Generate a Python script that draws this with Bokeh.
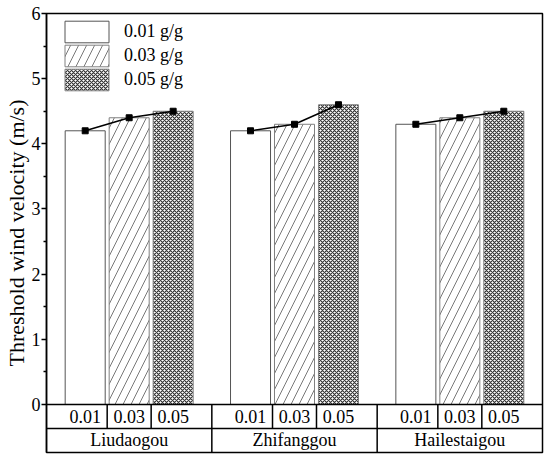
from bokeh.plotting import figure
from bokeh.models import Range1d, FixedTicker, Legend, LegendItem
from bokeh.core.properties import value
from bokeh.embed import file_html
from bokeh.resources import INLINE

# ---- data ----
sites = ["Liudaogou", "Zhifanggou", "Hailestaigou"]
contents = ["0.01", "0.03", "0.05"]
legend_labels = ["0.01 g/g", "0.03 g/g", "0.05 g/g"]
v001 = [4.2, 4.2, 4.3]
v003 = [4.4, 4.3, 4.4]
v005 = [4.5, 4.6, 4.5]
y_ticks = [0, 1, 2, 3, 4, 5, 6]
y_minor = [0.5, 1.5, 2.5, 3.5, 4.5, 5.5]

series = [v001, v003, v005]
offsets = [-0.266, 0.0, 0.266]
bar_w = 0.242
FONT = "Liberation Serif"

p = figure(width=544, height=454, output_backend="svg", toolbar_location=None,
           x_range=Range1d(0, 3), y_range=Range1d(-0.737, 6),
           min_border_left=46, min_border_right=2, min_border_top=13,
           min_border_bottom=2, x_axis_location=None)
p.xgrid.visible = False
p.ygrid.visible = False
p.outline_line_color = "black"
p.outline_line_width = 1.5
p.background_fill_color = "white"
p.border_fill_color = "white"

ax = p.yaxis[0]
ax.ticker = FixedTicker(ticks=y_ticks, minor_ticks=y_minor)
ax.axis_label = "Threshold wind velocity (m/s)"
ax.axis_label_text_font = FONT
ax.axis_label_text_font_style = "normal"
ax.axis_label_text_font_size = "22px"
ax.axis_label_text_color = "black"
ax.axis_label_standoff = 0
ax.major_label_text_font = FONT
ax.major_label_text_font_size = "18px"
ax.major_label_text_color = "black"
ax.major_label_standoff = 1
ax.axis_line_color = "black"
ax.axis_line_width = 1.5
ax.major_tick_line_color = "black"
ax.minor_tick_line_color = "black"
ax.major_tick_line_width = 1.5
ax.minor_tick_line_width = 1.5
ax.major_tick_out = 5
ax.major_tick_in = 0
ax.minor_tick_out = 3
ax.minor_tick_in = 0

styles = [
    dict(fill_color="white", line_color="#555555", line_width=1),
    dict(fill_color="white", line_color="#808080", line_width=1,
         hatch_pattern="/", hatch_scale=16, hatch_weight=0.8, hatch_color="#555555"),
    dict(fill_color="white", line_color="#808080", line_width=1,
         hatch_pattern="x", hatch_scale=4, hatch_weight=1.2, hatch_color="#333333"),
]

renderers = []
for k, vals in enumerate(series):
    xs = [i + 0.5 + offsets[k] for i in range(len(sites))]
    r = p.vbar(x=xs, top=vals, bottom=0, width=bar_w, **styles[k])
    renderers.append(r)

# line + markers within each site
for i in range(len(sites)):
    xs = [i + 0.5 + o for o in offsets]
    ys = [s[i] for s in series]
    p.line(xs, ys, line_color="black", line_width=1.5)
    p.scatter(xs, ys, marker="square", size=6, fill_color="black", line_color="black")

# table below axis
row_mid = -0.368
y_bot = -0.737
p.segment(x0=[0, 0], y0=[0, row_mid], x1=[3, 3], y1=[0, row_mid],
          line_color="black", line_width=1.5)
sub_x = []
for i in range(len(sites)):
    sub_x += [i + 0.5 + (offsets[0] + offsets[1]) / 2, i + 0.5 + (offsets[1] + offsets[2]) / 2]
p.segment(x0=sub_x, y0=[0] * len(sub_x), x1=sub_x, y1=[row_mid] * len(sub_x),
          line_color="black", line_width=1.5)
grp_x = [1, 2]
p.segment(x0=grp_x, y0=[0, 0], x1=grp_x, y1=[y_bot, y_bot],
          line_color="black", line_width=1.5)

cx, ct = [], []
for i in range(len(sites)):
    for k, c in enumerate(contents):
        cx.append(i + 0.5 + offsets[k])
        ct.append(c)
p.text(x=cx, y=[row_mid / 2] * len(cx), text=ct, text_font=value(FONT),
       text_font_size="18px", text_align="center", text_baseline="middle",
       text_color="black")
p.text(x=[i + 0.5 for i in range(len(sites))], y=[(row_mid + y_bot) / 2] * len(sites),
       text=sites, text_font=value(FONT), text_font_size="18px",
       text_align="center", text_baseline="middle", text_color="black")

# one legend per item so the boxes can sit closer than Bokeh's glyph inset allows
leg_y = [407, 383, 359]
for k in range(3):
    lg = Legend(items=[LegendItem(label=legend_labels[k], renderers=[renderers[k]])],
                location=(13, leg_y[k]), orientation="vertical",
                glyph_width=55, glyph_height=27, label_height=27, spacing=0,
                padding=0, margin=0, label_standoff=10,
                label_text_font=FONT, label_text_font_size="18px",
                label_text_color="black", label_text_baseline="middle",
                border_line_color=None, background_fill_alpha=0)
    p.add_layout(lg, "center")

open("out.html", "w").write(file_html(p, INLINE))
